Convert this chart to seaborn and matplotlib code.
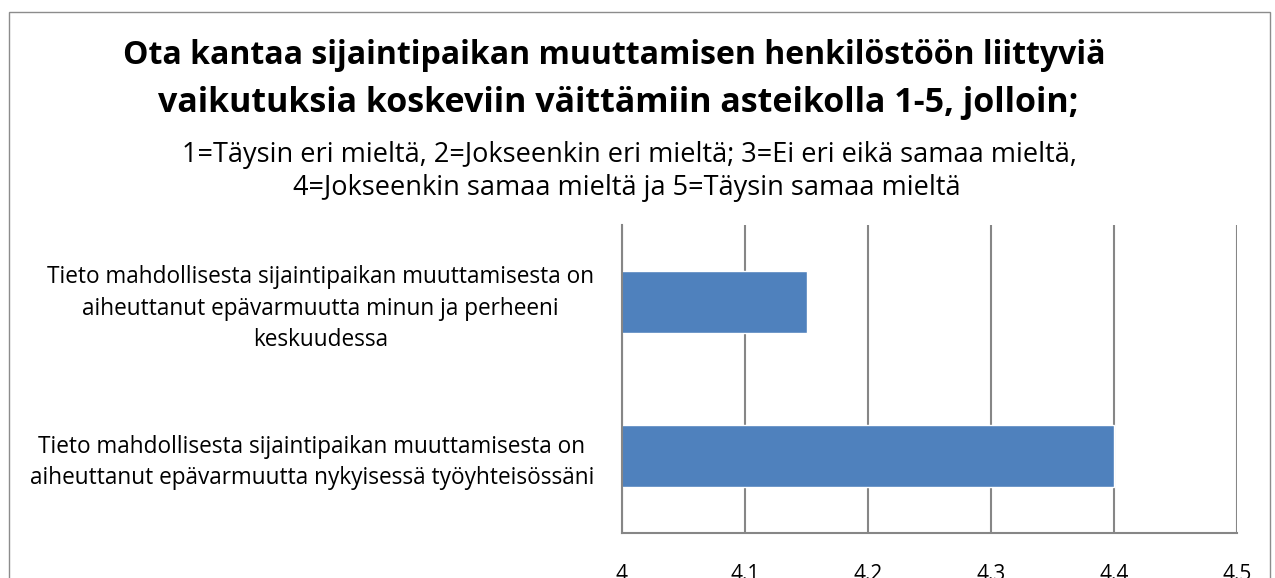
import numpy as np
import pandas as pd
import seaborn as sns
from matplotlib import pyplot as plt
from matplotlib.patches import Rectangle

statements = [
    "Tieto mahdollisesta sijaintipaikan muuttamisesta on\naiheuttanut epävarmuutta minun ja perheeni\nkeskuudessa",
    "Tieto mahdollisesta sijaintipaikan muuttamisesta on\naiheuttanut epävarmuutta nykyisessä työyhteisössäni",
]
averages = [4.15, 4.4]
x_ticks = [4, 4.1, 4.2, 4.3, 4.4, 4.5]
x_tick_labels = ["4", "4.1", "4.2", "4.3", "4.4", "4.5"]

title_lines = [
    "Ota kantaa sijaintipaikan muuttamisen henkilöstöön liittyviä",
    "vaikutuksia koskeviin väittämiin asteikolla 1-5, jolloin;",
]
subtitle_lines = [
    "1=Täysin eri mieltä, 2=Jokseenkin eri mieltä; 3=Ei eri eikä samaa mieltä,",
    "4=Jokseenkin samaa mieltä ja 5=Täysin samaa mieltä",
]

sns.set_style("white")
plt.rcParams["font.family"] = ["Open Sans", "DejaVu Sans"]
plt.rcParams["text.color"] = "black"
plt.rcParams["xtick.color"] = "black"
plt.rcParams["ytick.color"] = "black"

df = pd.DataFrame({"statement": statements, "average": averages})

fig = plt.figure(figsize=(12.75, 5.78), dpi=100)
ax = fig.add_axes([622 / 1275, 1 - 533 / 578, 615 / 1275, 308 / 578])

sns.barplot(data=df, x="average", y="statement", orient="h", color="#4F81BD",
            saturation=1, width=0.4, ax=ax)

grid_c = "#868686"
ax.set_xlim(4, 4.5)
ax.set_ylim(1.5, -0.5)
ax.set_xticks(x_ticks)
ax.set_xticklabels(x_tick_labels, fontsize=15)
ax.grid(axis="x", color=grid_c, linewidth=1.5)
ax.set_axisbelow(True)
ax.set_xlabel("")
ax.set_ylabel("")
for s in ["top", "right"]:
    ax.spines[s].set_visible(False)
for s in ["left", "bottom"]:
    ax.spines[s].set_color(grid_c)
    ax.spines[s].set_linewidth(1.5)
ax.tick_params(axis="x", length=0, pad=22, labelcolor="black")
ax.tick_params(axis="y", which="major", length=0, pad=20, labelsize=16.3,
               labelcolor="black")
ax.set_yticks([0.5, 1.5], minor=True)
ax.tick_params(axis="y", which="minor", length=7, width=1.5, color=grid_c)
for t in ax.get_yticklabels():
    t.set_multialignment("center")
    t.set_linespacing(1.4)

fig.text(0.482, 1 - 55 / 578, title_lines[0], ha="center", va="center",
         fontsize=23, fontweight="bold", color="black")
fig.text(0.485, 1 - 103 / 578, title_lines[1], ha="center", va="center",
         fontsize=24.5, fontweight="bold", color="black")
fig.text(0.494, 1 - 155 / 578, subtitle_lines[0], ha="center", va="center",
         fontsize=19.5, color="black")
fig.text(0.492, 1 - 188 / 578, subtitle_lines[1], ha="center", va="center",
         fontsize=19.5, color="black")

fig.patches.append(Rectangle((9 / 1275, -0.1), 1261 / 1275, 1.1 - 12 / 578,
                             transform=fig.transFigure, fill=False,
                             edgecolor="#8c8c8c", linewidth=1))

fig.savefig("out.png", dpi=100)
